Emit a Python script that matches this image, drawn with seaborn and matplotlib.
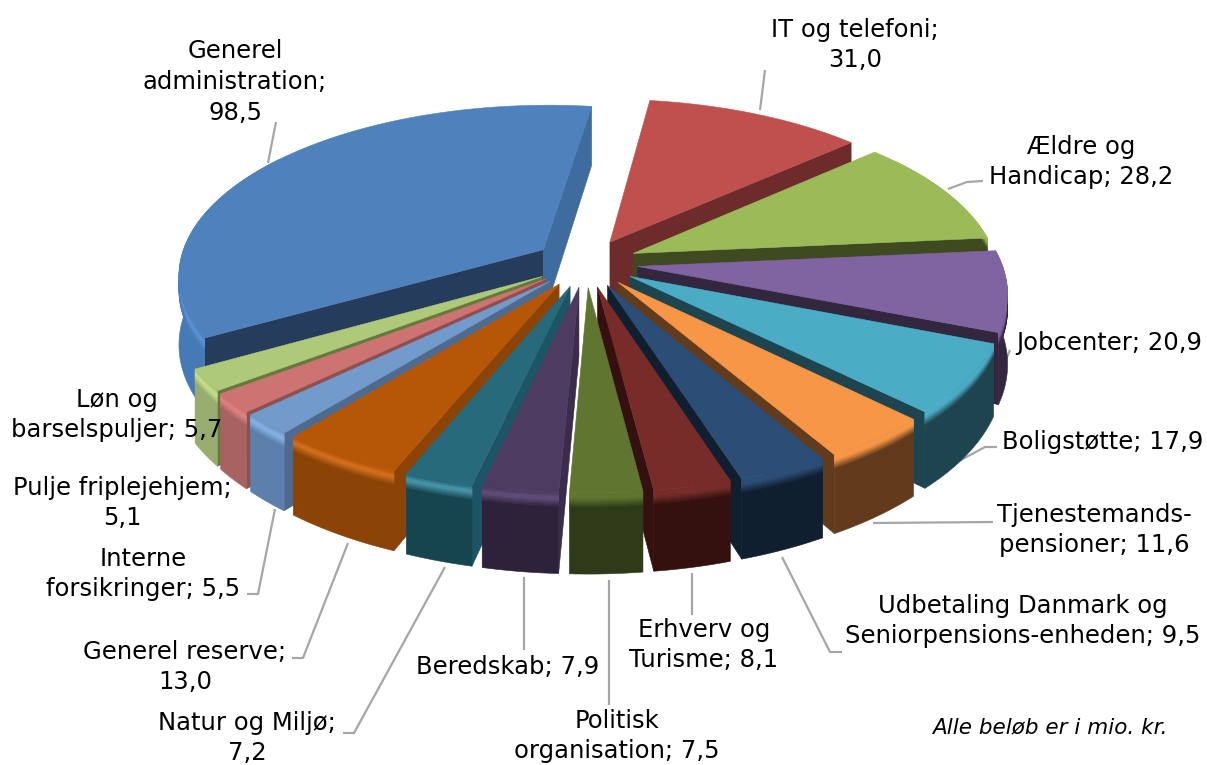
import numpy as np
import matplotlib
matplotlib.use("Agg")
import matplotlib.pyplot as plt
from matplotlib.colors import to_rgb
import seaborn as sns

# Budget data, clockwise from the first slice
kategorier = ["Generel administration", "IT og telefoni", "Ældre og Handicap", "Jobcenter",
              "Boligstøtte", "Tjenestemandspensioner", "Udbetaling Danmark", "Erhverv og Turisme",
              "Politisk organisation", "Beredskab", "Natur og Miljø", "Generel reserve",
              "Interne forsikringer", "Pulje friplejehjem", "Løn og barselspuljer"]
vaerdier = [98.5, 31.0, 28.2, 20.9, 17.9, 11.6, 9.5, 8.1, 7.5, 7.9, 7.2, 13.0, 5.5, 5.1, 5.7]

# Colours of each slice: top, rim, cut face and bevel highlight
farve_top = ["#4F81BD", "#C0504D", "#9BBB59", "#8064A2", "#4BACC6", "#F79646", "#2C4D75", "#772C2A",
             "#5F7530", "#4D3B62", "#276A7C", "#B65708", "#729ACA", "#CD7371", "#AFC97A"]
farve_rim = ["#467AB5", "#6E2B2B", "#3F4A20", "#33263F", "#1E454F", "#623B1C", "#101F30", "#34110F",
             "#2F3B18", "#2E213A", "#17454F", "#8B4306", "#5C80AB", "#A86260", "#97AC6E"]
farve_snit = ["#253C5C", "#6E2B2B", "#3F4A20", "#33263F", "#1E454F", "#623B1C", "#101F30", "#34110F",
              "#2F3B18", "#3A2C4A", "#1D5566", "#8B4306", "#4F6A8F", "#8F4F4E", "#637A3A"]
farve_snit_slut = ["#3F6C9F"] + farve_snit[1:]
farve_glans = ["#5A95DC", "#C0504D", "#9BBB59", "#8064A2", "#4BACC6", "#F79646", "#2C4D75", "#772C2A",
               "#5F7530", "#64507E", "#4A9BB0", "#D9721E", "#88B5E8", "#E08583", "#C9E38E"]

# Label text, centre position (pixels) and leader line
etiketter = ["Generel\nadministration;\n98,5", "IT og telefoni;\n31,0", "Ældre og\nHandicap; 28,2",
             "Jobcenter; 20,9", "Boligstøtte; 17,9", "Tjenestemands-\npensioner; 11,6",
             "Udbetaling Danmark og\nSeniorpensions-enheden; 9,5", "Erhverv og\nTurisme; 8,1",
             "Politisk\norganisation; 7,5", "Beredskab; 7,9", "Natur og Miljø;\n7,2",
             "Generel reserve;\n13,0", "Interne\nforsikringer; 5,5", "Pulje friplejehjem;\n5,1",
             "Løn og\nbarselspuljer; 5,7"]
etiket_x = [235, 855, 1081, 1109, 1103, 1094, 1023, 704, 617, 508, 247, 185, 143, 122, 117]
etiket_y = [82, 45, 162, 343, 442, 530, 621, 645, 736, 667, 738, 667, 574, 503, 415]
linjer = [[(276, 122), (268, 163)], [(765, 70), (760, 110)], [(983, 181), (967, 182), (948, 189)],
          [(1010, 350), (1003, 367)], [(997, 447), (985, 447), (959, 461)], [(993, 522), (873, 523)],
          [(842, 652), (830, 652), (782, 557)], [(692, 573), (692, 615)], [(609, 580), (609, 705)],
          [(524, 577), (524, 650)], [(343, 733), (354, 733), (445, 567)], [(292, 658), (303, 658), (348, 543)],
          [(247, 594), (258, 594), (275, 509)]]

# Look of the 3D pie, in pixels
MIDT_X, MIDT_Y = 586, 263
RADIUS = 364
SPRING = 52
TILT = 0.463
PERSP = 0.142
HOEJDE = 68
START = -119.9


def projicer(x, y, z):
    """World point to picture pixel, z is 0 on the top face and negative below."""
    s = 1 / (1 + PERSP * y / RADIUS)
    return MIDT_X + x * s, MIDT_Y - (TILT * y + z) * s


def areal(px, py):
    return 0.5 * np.sum(px * np.roll(py, -1) - np.roll(px, -1) * py)


def blanding(a, b, t):
    a, b = np.array(to_rgb(a)), np.array(to_rgb(b))
    return tuple(a + (b - a) * t)


def flade(ax, x, y, z, farve, zorder):
    px, py = projicer(np.asarray(x), np.asarray(y), np.asarray(z))
    ax.fill(px, py, color=farve, lw=0.4, zorder=zorder)


def tegn_stykke(ax, a0, a1, top, rim, snit, snit_slut, glans, zorder):
    midt = np.radians((a0 + a1) / 2)
    ax0, ay0 = SPRING * np.sin(midt), SPRING * np.cos(midt)
    th = np.radians(np.linspace(a0, a1, 80))
    ex = ax0 + RADIUS * np.sin(th)
    ey = ay0 + RADIUS * np.cos(th)

    # the two cut faces, only when they turn towards the viewer
    for i, far, ende in [(0, snit, 1), (-1, snit_slut, -1)]:
        x = np.array([ax0, ex[i], ex[i], ax0])
        y = np.array([ay0, ey[i], ey[i], ay0])
        z = np.array([0, 0, -HOEJDE, -HOEJDE])
        px, py = projicer(x, y, z)
        if areal(px, py) * ende < 0:
            ax.fill(px, py, color=far, lw=0.4, zorder=zorder)

    # rim: solid wall, then thin bands at the top so the bevel fades into it
    # the part turned away is hidden by the top face, it only closes the outline
    synlig = np.cos(th) < 0.6
    n = synlig.sum()
    if n > 1:
        x = np.r_[ex[synlig], ex[synlig][::-1]]
        y = np.r_[ey[synlig], ey[synlig][::-1]]
        z = np.r_[np.full(n, -0.2 * HOEJDE), np.full(n, -HOEJDE)]
        flade(ax, x, y, z, rim, zorder)
        zs = np.linspace(0, -0.2 * HOEJDE, 9)
        for j in range(len(zs) - 1):
            t = j / (len(zs) - 2)
            far = blanding(top, glans, t / 0.35) if t < 0.35 else blanding(glans, rim, (t - 0.35) / 0.65)
            z = np.r_[np.full(n, zs[j]), np.full(n, zs[j + 1] - 0.5)]
            flade(ax, x, y, z, far, zorder)

    # top face last
    x = np.r_[ax0, ex]
    y = np.r_[ay0, ey]
    flade(ax, x, y, np.zeros_like(x), top, zorder)


def main():
    sns.set_theme(style="white")
    plt.rcParams["font.family"] = ["DejaVu Sans"]
    fig, ax = plt.subplots(figsize=(12.07, 7.65), dpi=100)
    fig.subplots_adjust(0, 0, 1, 1)
    ax.set_xlim(0, 1207)
    ax.set_ylim(765, 0)
    ax.axis("off")
    sns.despine(ax=ax, left=True, bottom=True)

    spans = np.array(vaerdier) / np.sum(vaerdier) * 360
    graenser = START + np.r_[0, np.cumsum(spans)]
    midter = (graenser[:-1] + graenser[1:]) / 2

    # back slices first so the front ones paint over them
    raekkefoelge = np.argsort(-np.cos(np.radians(midter)))
    for nr, i in enumerate(raekkefoelge):
        tegn_stykke(ax, graenser[i], graenser[i + 1], farve_top[i], farve_rim[i], farve_snit[i],
                    farve_snit_slut[i], farve_glans[i], 2 + nr)

    for linje in linjer:
        xs, ys = zip(*linje)
        ax.plot(xs, ys, color="#A6A6A6", lw=1.6, zorder=1, solid_capstyle="butt")

    for txt, x, y in zip(etiketter, etiket_x, etiket_y):
        ax.text(x, y, txt, ha="center", va="center", fontsize=17.5, color="black",
                linespacing=1.35, zorder=40)
    ax.text(1050, 727, "Alle beløb er i mio. kr.", ha="center", va="center", fontsize=15.5,
            style="italic", color="black", zorder=40)

    fig.savefig("out.png", dpi=100, facecolor="white")


if __name__ == "__main__":
    main()
